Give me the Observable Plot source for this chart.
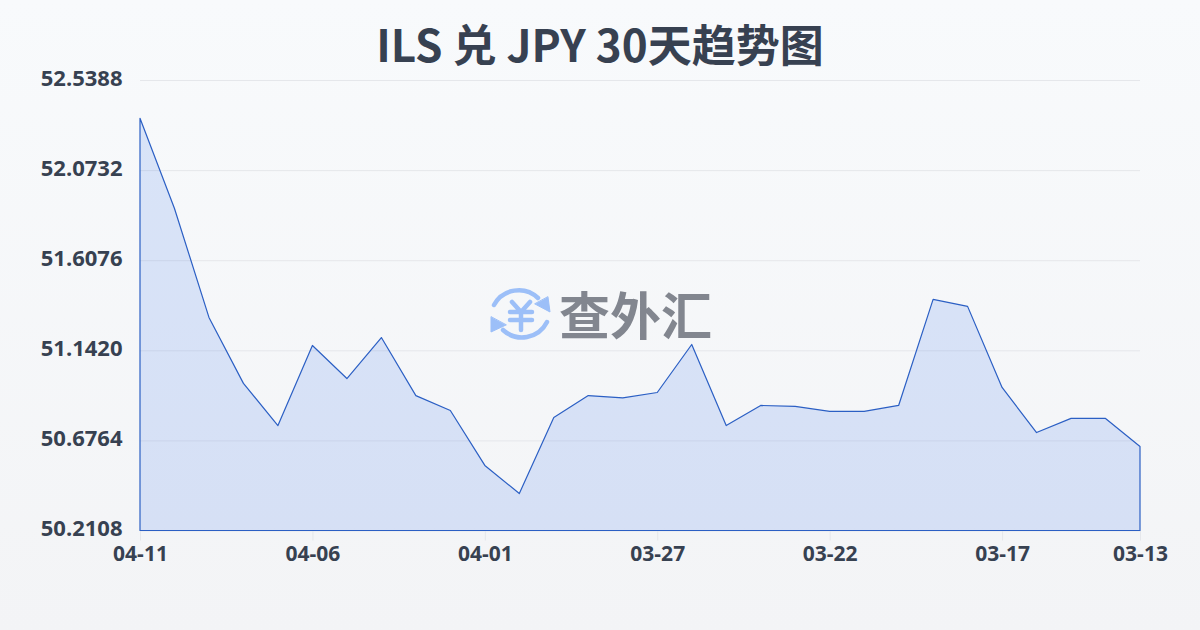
<!DOCTYPE html>
<html lang="zh">
<head>
<meta charset="utf-8">
<script src="https://cdn.jsdelivr.net/npm/d3@7"></script>
<script src="https://cdn.jsdelivr.net/npm/@observablehq/plot@0.6"></script>
<style>
html,body{margin:0;padding:0;width:1200px;height:630px;overflow:hidden;background:linear-gradient(180deg,#f8fafc 0%,#f3f4f6 100%);}
body{position:relative;font-family:"Open Sans","Noto Sans CJK SC",sans-serif;}
#title{height:60px;line-height:87px;text-align:center;font-size:44px;font-weight:700;color:#374151;font-family:"Noto Sans CJK SC",sans-serif;}
#chart svg{display:block;background:transparent;overflow:visible;}
#mark{position:absolute;left:488px;top:284px;width:240px;height:62px;pointer-events:none;}
#mark svg{position:absolute;left:0;top:0;}
#mark span{position:absolute;left:71px;top:-6px;font-size:51px;line-height:70px;font-weight:700;color:#82868f;font-family:"Noto Sans CJK SC",sans-serif;white-space:nowrap;}
</style>
</head>
<body>
<div id="title">ILS 兑 JPY 30天趋势图</div>
<div id="chart"></div>
<div id="mark">
<svg width="64" height="62" viewBox="0 0 64 62" fill="none" stroke="#9cbff8" stroke-linecap="round" stroke-linejoin="round">
<path d="M6 21A28 28 0 0 1 50 14" stroke-width="4.5"/>
<path d="M60 13L62 28L47 20Z" fill="#9cbff8" stroke="#9cbff8" stroke-width="1"/>
<path d="M59 38A28 28 0 0 1 15 46" stroke-width="4.5"/>
<path d="M3 33L3 48L18 41Z" fill="#9cbff8" stroke="#9cbff8" stroke-width="1"/>
<path d="M24 18L33 28L42 18M33 28V46M22 28H44M22 36H44" stroke-width="4.5"/>
</svg>
<span>查外汇</span>
</div>
<script>
const dates = ["04-11","04-10","04-09","04-08","04-07","04-06","04-05","04-04","04-03","04-02","04-01","03-31","03-30","03-29","03-28","03-27","03-26","03-25","03-24","03-23","03-22","03-21","03-20","03-19","03-18","03-17","03-16","03-15","03-14","03-13"];
const rates = [52.341,51.875,51.312,50.971,50.753,51.167,50.996,51.208,50.908,50.831,50.547,50.402,50.795,50.908,50.896,50.924,51.172,50.753,50.857,50.852,50.826,50.826,50.857,51.405,51.369,50.950,50.717,50.790,50.790,50.645];
const yTicks = [50.2108,50.6764,51.1420,51.6076,52.0732,52.5388];
const xTicks = ["04-11","04-06","04-01","03-27","03-22","03-17","03-13"];
const table = dates.map((date,i)=>({date,rate:rates[i]}));
const plot = Plot.plot({
  width:1200,height:570,
  marginLeft:140,marginRight:60,marginTop:20,marginBottom:99.5,
  style:{background:"transparent",fontFamily:'"Open Sans","Noto Sans CJK SC",sans-serif'},
  x:{type:"point",domain:dates,padding:0,round:false,label:null},
  y:{domain:[50.2108,52.5388],label:null},
  marks:[
    Plot.gridY(yTicks,{stroke:"#e5e7eb",strokeOpacity:1,strokeWidth:1}),
    Plot.axisY(yTicks,{tickSize:0,tickPadding:18,dy:-2,tickFormat:d=>d.toFixed(4),fontSize:22,fontWeight:700,fill:"#374151",label:null}),
    Plot.axisX(xTicks,{tickSize:10,tickPadding:5,stroke:"#e5e7eb",fontSize:21,fontWeight:700,fill:"#374151",label:null}),
    Plot.areaY(table,{x:"date",y1:()=>50.2108,y2:"rate",fill:"#2f6be8",fillOpacity:0.15,stroke:"#2b5fc4",strokeWidth:1.2,curve:"linear"})
  ]
});
document.getElementById("chart").appendChild(plot);
</script>
</body>
</html>
